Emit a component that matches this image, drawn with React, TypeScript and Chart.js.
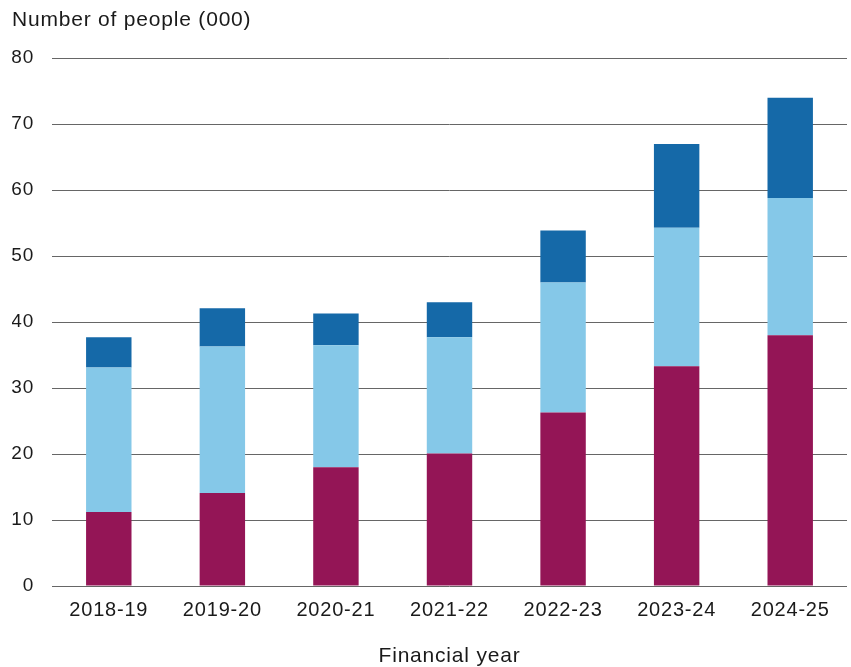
import React, { useEffect, useRef } from "react";
import { Chart, registerables } from "chart.js";

Chart.register(...registerables);

const categories = ["2018-19", "2019-20", "2020-21", "2021-22", "2022-23", "2023-24", "2024-25"];
const seriesBottom = [11.2, 14.1, 18.0, 20.1, 26.3, 33.3, 38.0];
const seriesMiddle = [21.9, 22.2, 18.5, 17.6, 19.7, 21.0, 20.8];
const seriesTop = [4.6, 5.8, 4.8, 5.3, 7.9, 12.7, 15.2];
const yTicks = [0, 10, 20, 30, 40, 50, 60, 70, 80];

const FONT = "'Liberation Sans', Arial, Helvetica, sans-serif";

const spacingPlugin = {
  id: "letterSpacing",
  beforeDraw(chart: any) {
    chart.ctx.letterSpacing = "0.8px";
  },
};

export default function App() {
  const ref = useRef<HTMLCanvasElement | null>(null);

  useEffect(() => {
    if (!ref.current) return;
    const chart = new Chart(ref.current, {
      type: "bar",
      data: {
        labels: categories,
        datasets: [
          { label: "Bottom", data: seriesBottom, backgroundColor: "#941556" },
          { label: "Middle", data: seriesMiddle, backgroundColor: "#85C8E8" },
          { label: "Top", data: seriesTop, backgroundColor: "#1569A8" },
        ],
      },
      plugins: [spacingPlugin],
      options: {
        responsive: false,
        animation: false,
        datasets: { bar: { categoryPercentage: 0.4, barPercentage: 1 } },
        layout: { padding: { left: 12, right: 4, top: 0, bottom: 0 } },
        plugins: {
          legend: { display: false },
          tooltip: { enabled: false },
          title: {
            display: true,
            text: "Number of people (000)",
            align: "start",
            color: "#1a1a1a",
            font: { family: FONT, size: 21, weight: "normal" },
            padding: { top: 8, bottom: 25 },
          },
        },
        scales: {
          x: {
            stacked: true,
            grid: { display: false },
            border: { display: false },
            ticks: { color: "#1a1a1a", font: { family: FONT, size: 20 }, padding: 4, maxRotation: 0 },
            title: {
              display: true,
              text: "Financial year",
              color: "#1a1a1a",
              font: { family: FONT, size: 21, lineHeight: 1 },
              padding: { top: 20, bottom: 0 },
            },
          },
          y: {
            stacked: true,
            min: 0,
            max: 80,
            afterBuildTicks: (scale: any) => {
              scale.ticks = yTicks.map((v) => ({ value: v }));
            },
            afterFit: (scale: any) => {
              scale.width = 40;
            },
            grid: { color: "#666666", lineWidth: 1, drawTicks: false },
            border: { display: false },
            ticks: { color: "#1a1a1a", font: { family: FONT, size: 19 }, padding: 18 },
          },
        },
      },
    });
    return () => chart.destroy();
  }, []);

  return (
    <div style={{ position: "absolute", left: 0, top: 0, width: 851, height: 667, background: "#fff" }}>
      <canvas ref={ref} width={851} height={667} />
    </div>
  );
}
